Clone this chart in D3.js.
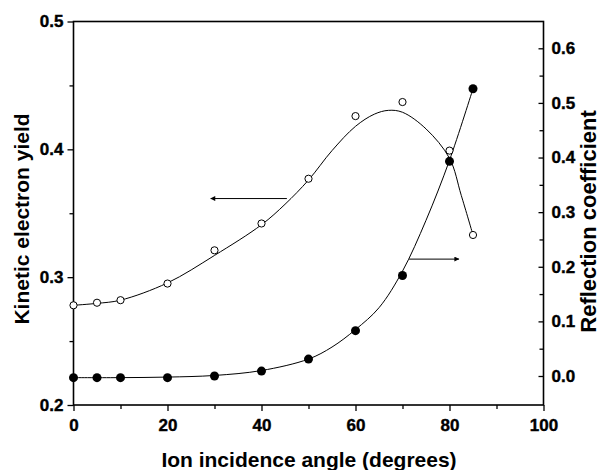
<!DOCTYPE html>
<html>
<head>
<meta charset="utf-8">
<script src="https://cdn.jsdelivr.net/npm/d3@7"></script>
<style>
  body { margin: 0; background: #fff; }
  text { font-family: "Liberation Sans", Arial, sans-serif; font-weight: bold; fill: #000; }
</style>
</head>
<body>
<div id="chart"></div>
<script>
// measured points
var angle = [0, 5, 10, 20, 30, 40, 50, 60, 70, 80, 85]
var yieldPts = [0.278, 0.280, 0.282, 0.295, 0.321, 0.342, 0.377, 0.426, 0.437, 0.399, 0.333]
var reflPts = [-0.003, -0.003, -0.003, -0.003, 0.000, 0.009, 0.031, 0.083, 0.184, 0.393, 0.526]

// fitted curves
var yieldFitX = [0, 5, 10, 20, 30, 40, 45, 50, 55, 60, 64, 67, 70, 75, 80, 82.5, 85]
var yieldFitY = [0.278, 0.2795, 0.282, 0.2955, 0.317, 0.341, 0.357, 0.376, 0.399, 0.418, 0.4275, 0.4305, 0.429, 0.416, 0.393, 0.364, 0.333]
var reflFitX = [0, 10, 20, 30, 40, 50, 55, 60, 65, 70, 75, 80, 85]
var reflFitY = [-0.003, -0.003, -0.002, 0.001, 0.010, 0.031, 0.053, 0.085, 0.125, 0.192, 0.285, 0.395, 0.526]

// arrows: [from angle, to angle, value] on each axis
var leftArrow = [45.4, 29.2, 0.3615]
var rightArrow = [71.4, 82.0, 0.214]

var xTicks = [0, 20, 40, 60, 80, 100]
var xMinor = [10, 30, 50, 70, 90]
var leftTicks = [0.2, 0.3, 0.4, 0.5]
var leftMinor = [0.25, 0.35, 0.45]
var rightTicks = [0.0, 0.1, 0.2, 0.3, 0.4, 0.5, 0.6]
var rightMinor = [0.05, 0.15, 0.25, 0.35, 0.45, 0.55]

var W = 601, H = 470
var L = 73.5, R = 543.5, T = 21.5, B = 405

var svg = d3.select("#chart").append("svg")
  .attr("width", W)
  .attr("height", H)

var x = d3.scaleLinear().domain([0, 100]).range([L, R])
var yL = d3.scaleLinear().domain([0.2, 0.5]).range([B, T])
var yR = d3.scaleLinear().domain([0, 0.6]).range([376, 48.3])

var defs = svg.append("defs")
defs.append("marker")
  .attr("id", "arr")
  .attr("viewBox", "0 0 10 10")
  .attr("refX", 9).attr("refY", 5)
  .attr("markerWidth", 8).attr("markerHeight", 5)
  .attr("markerUnits", "userSpaceOnUse")
  .attr("orient", "auto")
  .append("path").attr("d", "M0,0 L10,5 L0,10 Z").attr("fill", "#000")

// axes
var gx = svg.append("g").attr("transform", "translate(0," + B + ")")
  .call(d3.axisBottom(x).tickValues(xTicks).tickSize(6).tickPadding(8).tickFormat(d3.format("d")))
gx.append("g").call(d3.axisBottom(x).tickValues(xMinor).tickSize(4).tickFormat(""))

var gl = svg.append("g").attr("transform", "translate(" + L + ",0)")
  .call(d3.axisLeft(yL).tickValues(leftTicks).tickSize(6).tickPadding(4).tickFormat(d3.format(".1f")))
gl.append("g").call(d3.axisLeft(yL).tickValues(leftMinor).tickSize(4).tickFormat(""))

var gr = svg.append("g").attr("transform", "translate(" + R + ",0)")
  .call(d3.axisRight(yR).tickValues(rightTicks).tickSize(-5).tickPadding(8).tickFormat(d3.format(".1f")))
gr.append("g").call(d3.axisRight(yR).tickValues(rightMinor).tickSize(-4).tickFormat(""))

svg.selectAll(".domain").remove()
svg.selectAll(".tick line").attr("stroke", "#000").attr("stroke-width", 1.3)
svg.selectAll(".tick text").attr("font-size", 17)
  .style("stroke", "#000").style("stroke-width", 0.4)

// frame
svg.append("rect")
  .attr("x", L).attr("y", T)
  .attr("width", R - L).attr("height", B - T)
  .attr("fill", "none").attr("stroke", "#000").attr("stroke-width", 1.6)

// fitted curves
var yieldLine = d3.line().x(function(d) { return x(d[0]) }).y(function(d) { return yL(d[1]) }).curve(d3.curveCatmullRom.alpha(0.5))
var reflLine = d3.line().x(function(d) { return x(d[0]) }).y(function(d) { return yR(d[1]) }).curve(d3.curveCatmullRom.alpha(0.5))

svg.append("path")
  .datum(d3.zip(yieldFitX, yieldFitY))
  .attr("d", yieldLine)
  .attr("fill", "none").attr("stroke", "#000").attr("stroke-width", 1)

svg.append("path")
  .datum(d3.zip(reflFitX, reflFitY))
  .attr("d", reflLine)
  .attr("fill", "none").attr("stroke", "#000").attr("stroke-width", 1)

// arrows
svg.append("line")
  .attr("x1", x(leftArrow[0])).attr("x2", x(leftArrow[1]))
  .attr("y1", yL(leftArrow[2])).attr("y2", yL(leftArrow[2]))
  .attr("stroke", "#000").attr("stroke-width", 1)
  .attr("marker-end", "url(#arr)")

svg.append("line")
  .attr("x1", x(rightArrow[0])).attr("x2", x(rightArrow[1]))
  .attr("y1", yR(rightArrow[2])).attr("y2", yR(rightArrow[2]))
  .attr("stroke", "#000").attr("stroke-width", 1)
  .attr("marker-end", "url(#arr)")

// markers
svg.append("g").selectAll("circle")
  .data(d3.zip(angle, yieldPts))
  .join("circle")
  .attr("cx", function(d) { return x(d[0]) })
  .attr("cy", function(d) { return yL(d[1]) })
  .attr("r", 3.6)
  .attr("fill", "#fff").attr("stroke", "#000").attr("stroke-width", 1)

svg.append("g").selectAll("circle")
  .data(d3.zip(angle, reflPts))
  .join("circle")
  .attr("cx", function(d) { return x(d[0]) })
  .attr("cy", function(d) { return yR(d[1]) })
  .attr("r", 4.5)
  .attr("fill", "#000")

// axis titles
svg.append("text")
  .attr("x", 309).attr("y", 466.5)
  .attr("text-anchor", "middle")
  .attr("font-size", 21)
  .text("Ion incidence angle (degrees)")

svg.append("text")
  .attr("transform", "translate(28.5,219) rotate(-90)")
  .attr("text-anchor", "middle")
  .attr("font-size", 21)
  .text("Kinetic electron yield")

svg.append("text")
  .attr("transform", "translate(596,221.5) rotate(-90)")
  .attr("text-anchor", "middle")
  .attr("font-size", 22)
  .text("Reflection coefficient")
</script>
</body>
</html>
